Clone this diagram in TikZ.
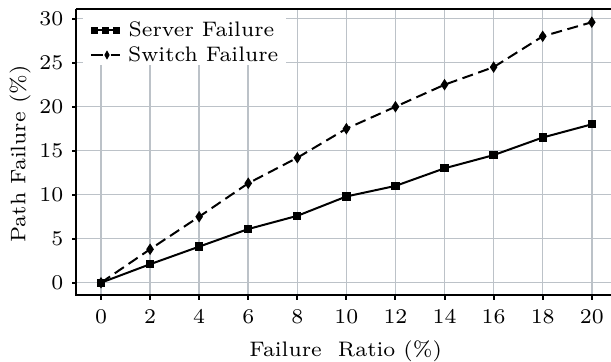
\documentclass[tikz,border=0pt]{standalone}
\definecolor{gridgray}{RGB}{188,194,200}
\begin{document}
\begin{tikzpicture}[x=0.3pt,y=0.3pt,
  gridline/.style={draw=gridgray,line width=0.45pt},
  axisline/.style={draw=black,line width=0.6pt},
  dataline/.style={draw=black,line width=0.6pt},
  dashline/.style={dataline,dash pattern=on 3.3pt off 1.7pt},
  lbl/.style={inner sep=0pt,scale=0.9,font=\fontsize{7}{8}\selectfont}]
\useasboundingbox (0,0) rectangle (611,361);
\begin{scope}
\clip (0,0) rectangle (611,361);
\begin{scope}[shift={(30.3pt,23.49pt)},x=7.362pt,y=2.64pt]
  % grid
  \foreach \i in {0,2,...,20} \draw[gridline] (\i,-1.398) -- (\i,31.07);
  \foreach \j in {0,5,...,30} \draw[gridline] (-1.019,\j) -- (21.5,\j);
\end{scope}
% legend background
\fill[white] (83,296.5) rectangle (286,351);
\begin{scope}[shift={(30.3pt,23.49pt)},x=7.362pt,y=2.64pt]
  % axes
  \draw[axisline] (-1.019,31.07) -- (21.5,31.07);
  \draw[axisline] (-1.019,31.07) -- (-1.019,-1.398) -- (21.5,-1.398);
  \foreach \j in {0,5,...,30} {
    \draw[axisline] (-1.019,\j) -- ++(-1.2pt,0);
    \node[lbl,anchor=east] (yl\j) at (-1.508,\j) {\j};
  }
  \foreach \i in {0,2,...,20} {
    \draw[axisline] (\i,-1.398) -- ++(0,-1.5pt);
    \node[lbl,anchor=base] (xl\i) at (\i,-4.64) {\i};
  }
  % switch failure
  \draw[dashline] plot coordinates {(0,0) (2,3.8) (4,7.5) (6,11.3) (8,14.2) (10,17.5) (12,20) (14,22.5) (16,24.5) (18,28) (20,29.6)};
  \foreach \x/\y [count=\k] in {0/0,2/3.8,4/7.5,6/11.3,8/14.2,10/17.5,12/20,14/22.5,16/24.5,18/28,20/29.6} {
    \coordinate (w\k) at (\x,\y);
    \fill[black] (w\k) ++(0,1.75pt) -- ++(1.15pt,-1.75pt) -- ++(-1.15pt,-1.75pt) -- ++(-1.15pt,1.75pt) -- cycle;
  }
  % server failure
  \draw[dataline] plot coordinates {(0,0) (2,2.1) (4,4.1) (6,6.1) (8,7.6) (10,9.8) (12,11) (14,13) (16,14.5) (18,16.5) (20,18)};
  \foreach \x/\y [count=\k] in {0/0,2/2.1,4/4.1,6/6.1,8/7.6,10/9.8,12/11,14/13,16/14.5,18/16.5,20/18} {
    \coordinate (s\k) at (\x,\y);
    \fill[black] (s\k) ++(-1.25pt,-1.25pt) rectangle ++(2.5pt,2.5pt);
  }
\end{scope}
\end{scope}
% legend
\coordinate (la) at (91,330.7);
\coordinate (lb) at (120,330.7);
\draw[dataline] (la) -- (lb);
\foreach \x [count=\k] in {94.2,105.5,116.8} {
  \coordinate (lq\k) at (\x,330.7);
  \fill[black] (lq\k) ++(-1.05pt,-1.05pt) rectangle ++(2.1pt,2.1pt);
}
\node[lbl,anchor=base west] (lg1) at (128,325) {Server Failure};
\coordinate (lc) at (91,306);
\coordinate (ld) at (103.3,306);
\coordinate (le) at (110.7,306);
\coordinate (lf) at (120,306);
\coordinate (lm) at (107,306);
\draw[dataline] (lc) -- (ld);
\draw[dataline] (le) -- (lf);
\fill[black] (lm) ++(0,1.4pt) -- ++(0.8pt,-1.4pt) -- ++(-0.8pt,-1.4pt) -- ++(-0.8pt,1.4pt) -- cycle;
\node[lbl,anchor=base west] (lg2) at (127.5,299.3) {Switch Failure};
% axis labels
\node[lbl,anchor=base] (xlab) at (345.7,5) {Failure\ \ Ratio (\%)};
\node[lbl,anchor=base,rotate=90] (ylab) at (25.5,207) {Path Failure (\%)};
\end{tikzpicture}
\end{document}
